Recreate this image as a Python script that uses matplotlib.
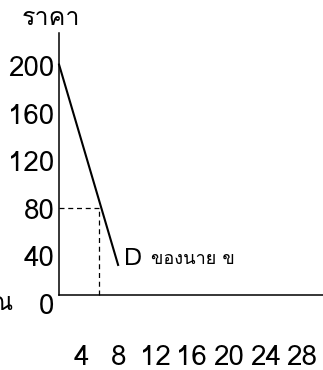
import matplotlib
matplotlib.use("Agg")
import matplotlib.pyplot as plt
from matplotlib import font_manager
from matplotlib.ft2font import FT2Font

# find an installed font that has Thai glyphs
def thai_font():
    for f in font_manager.fontManager.ttflist:
        try:
            if 0x0E23 in FT2Font(f.fname).get_charmap():
                return f.name
        except Exception:
            pass
    return None

THAI = thai_font()
fams = ([THAI] if THAI else []) + ["DejaVu Sans"]
plt.rcParams["font.family"] = fams

# data
price_ticks = [0, 40, 80, 120, 160, 200]
qty_ticks = [4, 8, 12, 16, 20, 24, 28]
demand_q = [1.5, 8.0]
demand_p = [202, 32]
point_q = 5.9
point_p = 81
axis_q0 = 1.5   # where the drawn axes cross
axis_p0 = 7.5

fig = plt.figure(figsize=(3.23, 3.70), dpi=100)
ax = fig.add_axes([45/323, (370-304)/370, (323-45)/323, (304-33)/370])
ax.set_xlim(0, 30.3)
ax.set_ylim(0, 227.7)

for s in ["top", "right"]:
    ax.spines[s].set_visible(False)
ax.spines["left"].set_position(("data", axis_q0))
ax.spines["left"].set_bounds(axis_p0, 227.7)
ax.spines["bottom"].set_position(("data", axis_p0))
ax.spines["bottom"].set_bounds(axis_q0, 30.3)
ax.spines["left"].set_linewidth(1.1)
ax.spines["bottom"].set_linewidth(1.1)

ax.set_yticks(price_ticks)
ax.set_yticklabels([str(v) for v in price_ticks])
ax.set_xticks(qty_ticks)
ax.set_xticklabels([str(v) for v in qty_ticks])
ax.tick_params(axis="y", length=0, pad=3, labelsize=20)
ax.tick_params(axis="x", length=0, pad=36, labelsize=20)

ax.plot(demand_q, demand_p, color="black", lw=1.5, solid_capstyle="butt")
ax.plot([axis_q0, point_q], [point_p, point_p], color="black", lw=0.9, ls=(0, (4, 3)))
ax.plot([point_q, point_q], [axis_p0, point_p], color="black", lw=0.9, ls=(0, (4, 3)))

ax.text(8.6, 38, "D", fontsize=18, va="center", ha="left")
ax.text(11.6, 38, "ของนาย ข", fontsize=13, va="center", ha="left")
ax.text(-2.5, 240, "ราคา", fontsize=18, va="center", ha="left")
# x-axis title sits off the left edge, as in the original
ax.text(-3.4, 0, "ปริมาณ", fontsize=18, va="center", ha="right")

fig.savefig("out.png", dpi=100)
